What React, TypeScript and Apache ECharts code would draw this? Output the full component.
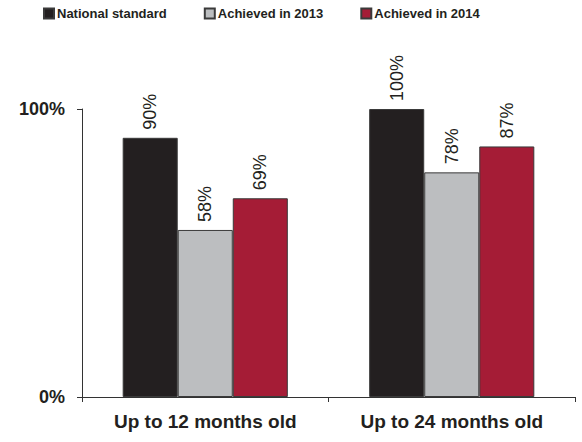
import React, { useEffect, useRef } from "react";
import * as echarts from "echarts";

const categories = ["Up to 12 months old", "Up to 24 months old"];
const seriesNames = ["National standard", "Achieved in 2013", "Achieved in 2014"];
const nationalStandard = [90, 100];
const achieved2013 = [58, 78];
const achieved2014 = [69, 87];
const yTicks = [0, 100];

const colors = ["#231f20", "#bcbec0", "#a51c36"];
const FONT = "'Liberation Sans', Arial, Helvetica, sans-serif";

export default function App() {
  const ref = useRef<HTMLDivElement>(null);
  useEffect(() => {
    document.body.style.margin = "0";
    const chart = echarts.init(ref.current!, null, { renderer: "svg" });
    const values = [nationalStandard, achieved2013, achieved2014];
    chart.setOption({
      animation: false,
      backgroundColor: "#ffffff",
      textStyle: { fontFamily: FONT },
      legend: {
        left: 38,
        top: 2,
        itemWidth: 10,
        itemHeight: 10,
        itemGap: 37,
        icon: "rect",
        textStyle: { fontFamily: FONT, fontSize: 13, fontWeight: "bold", color: "#231f20", padding: [0, 0, 0, -2] },
        data: seriesNames,
      },
      grid: { left: 82, right: 7, top: 109, bottom: 45, containLabel: false, outerBoundsMode: "none" },
      xAxis: {
        type: "category",
        data: categories,
        axisLine: { show: true, lineStyle: { color: "#333", width: 1 } },
        axisTick: { show: true, length: 5, lineStyle: { color: "#333" } },
        axisLabel: { fontFamily: FONT, fontSize: 19, fontWeight: "bold", color: "#231f20", margin: 15 },
      },
      yAxis: {
        type: "value",
        min: yTicks[0],
        max: yTicks[yTicks.length - 1],
        interval: yTicks[1] - yTicks[0],
        splitLine: { show: false },
        axisLine: { show: true, lineStyle: { color: "#333", width: 1 } },
        axisTick: { show: true, length: 5, lineStyle: { color: "#333" } },
        axisLabel: { fontFamily: FONT, fontSize: 18, fontWeight: "bold", color: "#231f20", margin: 17, formatter: "{value}%" },
      },
      series: seriesNames.map((name, i) => ({
        name,
        type: "bar",
        data: values[i],
        barGap: "0%",
        barCategoryGap: "33%",
        itemStyle: { color: colors[i], borderColor: "#3a3a3a", borderWidth: 1 },
        label: {
          show: true,
          position: "top",
          rotate: 90,
          align: "left",
          verticalAlign: "middle",
          distance: 8,
          fontFamily: FONT,
          fontSize: 18,
          color: "#231f20",
          formatter: "{c}%",
        },
      })),
    });
    return () => chart.dispose();
  }, []);
  return <div ref={ref} style={{ width: 582, height: 442 }} />;
}
